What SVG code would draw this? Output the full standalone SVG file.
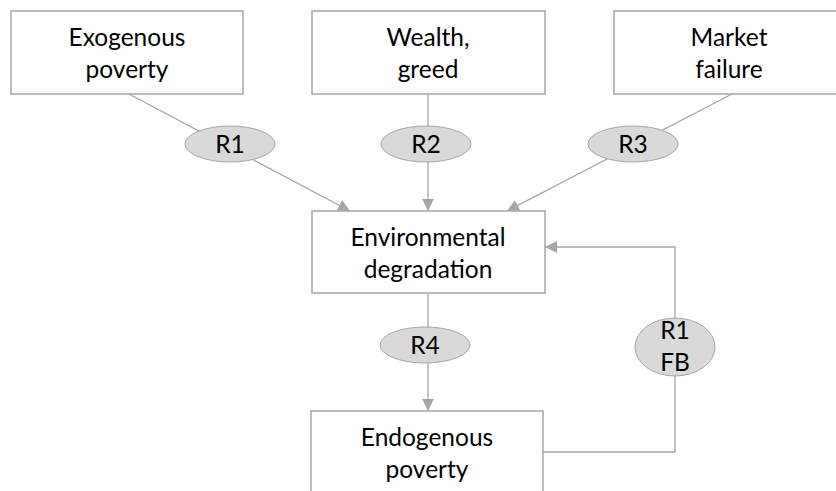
<svg xmlns="http://www.w3.org/2000/svg" width="836" height="491" viewBox="0 0 836 491">
<defs>
<marker id="ah" viewBox="0 0 12 12" refX="12" refY="6" markerWidth="12" markerHeight="12" markerUnits="userSpaceOnUse" orient="auto">
<path d="M0,0 L12,6 L0,12 Z" fill="#a6a6a6"/>
</marker>
<style>
.box{fill:#fff;stroke:#a6a6a6;stroke-width:1.5}
.ell{fill:#d9d9d9;stroke:#a6a6a6;stroke-width:1}
.ln{fill:none;stroke:#a6a6a6;stroke-width:1.3}
text{font-family:Lato,"Open Sans","Liberation Sans",sans-serif;font-size:24.5px;fill:#000;text-anchor:middle}
</style>
</defs>
<rect width="836" height="491" fill="#fff"/>
<g id="connectors">
<line class="ln" x1="129" y1="94" x2="350" y2="211" marker-end="url(#ah)"/>
<line class="ln" x1="428" y1="94" x2="428" y2="211" marker-end="url(#ah)"/>
<line class="ln" x1="732" y1="94" x2="507" y2="211" marker-end="url(#ah)"/>
<line class="ln" x1="428" y1="293" x2="428" y2="411" marker-end="url(#ah)"/>
<polyline class="ln" points="543,452 675,452 675,247 545,247" marker-end="url(#ah)"/>
</g>
<g id="exogenous">
<rect class="box" x="11" y="11" width="232" height="83"/>
<text x="127" y="46">Exogenous</text>
<text x="127" y="78">poverty</text>
</g>
<g id="wealth">
<rect class="box" x="312" y="11" width="233" height="83"/>
<text x="428" y="46">Wealth,</text>
<text x="428" y="78">greed</text>
</g>
<g id="market">
<rect class="box" x="614" y="11" width="232" height="83"/>
<text x="729" y="46">Market</text>
<text x="729" y="78">failure</text>
</g>
<g id="environmental">
<rect class="box" x="312" y="211" width="233" height="82"/>
<text x="428" y="246">Environmental</text>
<text x="428" y="278">degradation</text>
</g>
<g id="endogenous">
<rect class="box" x="311" y="411" width="232" height="90"/>
<text x="427" y="446">Endogenous</text>
<text x="427" y="478">poverty</text>
</g>
<g id="r1">
<ellipse class="ell" cx="230" cy="144" rx="45" ry="18"/>
<text x="230" y="153">R1</text>
</g>
<g id="r2">
<ellipse class="ell" cx="426" cy="144" rx="45" ry="18"/>
<text x="426" y="153">R2</text>
</g>
<g id="r3">
<ellipse class="ell" cx="633" cy="144" rx="45" ry="18"/>
<text x="633" y="153">R3</text>
</g>
<g id="r4">
<ellipse class="ell" cx="425" cy="345" rx="45" ry="18"/>
<text x="425" y="354">R4</text>
</g>
<g id="r1fb">
<ellipse class="ell" cx="675" cy="347" rx="40" ry="29"/>
<text x="675" y="339">R1</text>
<text x="675" y="371">FB</text>
</g>
</svg>
